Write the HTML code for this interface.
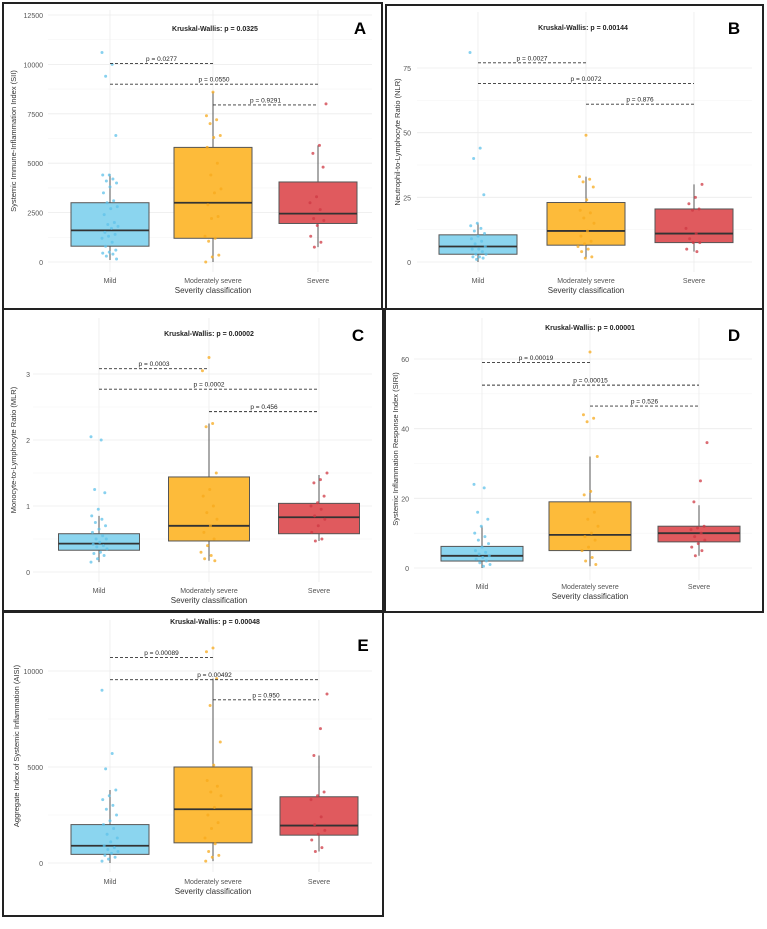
<!DOCTYPE html>
<html><head><meta charset="utf-8"><style>
body{margin:0;background:#fff;font-family:"Liberation Sans",sans-serif}
svg text{font-family:"Liberation Sans",sans-serif}
</style></head><body>
<svg id="fig" width="767" height="924" xmlns="http://www.w3.org/2000/svg"></svg>
<script>
const groups=["Mild","Moderately severe","Severe"];
// Panel A (SII)
const aTicks=[0,2500,5000,7500,10000,12500];
const aBoxes=[[100,800,1600,3000,4450],[0,1200,3000,5800,8600],[750,1950,2450,4050,5900]];
const aPts=[[10600,10000,9400,6400,4400,4400,4200,4100,4000,3800,3500,3100,3000,2800,2700,2400,2000,1900,1800,1700,1500,1400,1300,1200,1000,800,600,500,450,400,300,150],
[8600,7400,7200,7000,6400,6300,5800,5000,4400,3700,3500,2900,2300,2200,1300,1200,1050,350,250,0],
[8000,5900,5500,4800,3300,3000,2650,2200,2100,1850,1300,1000,750]];
const aBr=[[0,1,10050,"p = 0.0277"],[0,2,9000,"p = 0.0550"],[1,2,7950,"p = 0.9291"]];
// Panel B (NLR)
const bTicks=[0,25,50,75];
const bBoxes=[[0,3,6,10.5,15],[1.5,6.5,12,23,33],[4,7.5,11,20.5,30]];
const bPts=[[81,44,40,26,15,14,13,12,11,10,9,8,7,6,5,5,4,3,3,2,2,1.5,1],
[49,33,32,31,29,24,20,19,17,15,12,10,8,7,6,5,4,2,1.5],
[30,25,22.5,20.5,20,13,11,9,7.5,7.5,5,4]];
const bBr=[[0,1,77,"p = 0.0027"],[0,2,69,"p = 0.0072"],[1,2,61,"p = 0.876"]];
// Panel C (MLR)
const cTicks=[0,1,2,3];
const cBoxes=[[0.15,0.33,0.43,0.58,0.85],[0.17,0.47,0.7,1.44,2.25],[0.47,0.58,0.83,1.04,1.47]];
const cPts=[[2.05,2.0,1.25,1.2,0.95,0.85,0.8,0.75,0.7,0.65,0.6,0.55,0.5,0.5,0.45,0.42,0.4,0.38,0.35,0.3,0.28,0.25,0.2,0.15],
[3.25,3.05,2.25,2.2,1.5,1.25,1.15,1.0,0.9,0.8,0.7,0.6,0.5,0.4,0.3,0.25,0.2,0.17],
[1.5,1.4,1.35,1.15,1.05,1.0,0.95,0.85,0.8,0.7,0.6,0.5,0.47]];
const cBr=[[0,1,3.08,"p = 0.0003"],[0,2,2.77,"p = 0.0002"],[1,2,2.43,"p = 0.456"]];
// Panel D (SIRI)
const dTicks=[0,20,40,60];
const dBoxes=[[0,2,3.5,6.2,12],[0.5,5,9.5,19,32],[3.5,7.5,10,12,18]];
const dPts=[[24,23,16,14,12,10,9,8,7,6,5,4.5,4,3.5,3,2.5,2,1.5,1,0.5],
[62,44,43,42,32,22,21,16,14,12,10,9,8,6,5,3,2,1],
[36,25,19,12,11.5,11,10,9,8,7,6,5,3.5]];
const dBr=[[0,1,59,"p = 0.00019"],[0,2,52.5,"p = 0.00015"],[1,2,46.5,"p = 0.526"]];
// Panel E (AISI)
const eTicks=[0,5000,10000];
const eBoxes=[[0,450,900,2000,3800],[100,1050,2800,5000,9600],[600,1450,1950,3450,5600]];
const ePts=[[9000,5700,4900,3800,3500,3300,3000,2800,2500,2200,2000,1800,1500,1300,1100,900,800,700,600,500,400,300,200,100],
[11200,11000,9600,8200,6300,5100,4300,4000,3700,3500,2900,2500,2100,1800,1300,1000,600,400,300,100],
[8800,7000,5600,3700,3500,3300,2400,2000,1700,1500,1200,800,600]];
const eBr=[[0,1,10700,"p = 0.00089"],[0,2,9550,"p = 0.00492"],[1,2,8500,"p = 0.950"]];

const NS="http://www.w3.org/2000/svg";
const svg=document.getElementById('fig');
function el(t,a,p){const e=document.createElementNS(NS,t);for(const k in a)e.setAttribute(k,a[k]);(p||svg).appendChild(e);return e;}
const fills=["#8bd5ef","#fdbb3a","#e05a5e"],ptc=["#5fc2ea","#f7aa1c","#cf3a44"];

function panel(cfg){
  const g=el('g',{});
  
  
  const fr=el('rect',{x:cfg.fx,y:cfg.fy,width:cfg.fw,height:cfg.fh,fill:'#fff',stroke:'#222','stroke-width':2},g);
  
  
  const y=v=>cfg.y0+(cfg.y1-cfg.y0)*(v-cfg.t0)/(cfg.t1-cfg.t0);
  const x=i=>cfg.xs[i];
  const ticks=cfg.ticks;
  for(let i=0;i<ticks.length;i++){
    el('line',{x1:cfg.pl,x2:cfg.pr,y1:y(ticks[i]),y2:y(ticks[i]),stroke:'#ececec','stroke-width':0.8},g);
    if(i<ticks.length-1){const m=(ticks[i]+ticks[i+1])/2;el('line',{x1:cfg.pl,x2:cfg.pr,y1:y(m),y2:y(m),stroke:'#f5f5f5','stroke-width':0.6},g);}
    const t=el('text',{x:cfg.tx,y:y(ticks[i])+3,'text-anchor':'end','font-size':7,fill:'#555'},g);
    t.textContent=ticks[i];
    
    
  }
  for(let i=0;i<3;i++)el('line',{x1:x(i),x2:x(i),y1:cfg.pt,y2:cfg.pb,stroke:'#ececec','stroke-width':0.8},g);
  for(let i=0;i<3;i++){
    const b=cfg.boxes[i],w=cfg.bw;
    const bg=el('g',{},g);
    
    
    el('line',{x1:x(i),x2:x(i),y1:y(b[0]),y2:y(b[4]),stroke:'#555','stroke-width':1},bg);
    el('rect',{x:x(i)-w/2,y:y(b[3]),width:w,height:y(b[1])-y(b[3]),fill:fills[i],stroke:'#555','stroke-width':1},bg);
    el('line',{x1:x(i)-w/2,x2:x(i)+w/2,y1:y(b[2]),y2:y(b[2]),stroke:'#333','stroke-width':1.8},bg);
    cfg.pts[i].forEach((v,k)=>{
      const off=(((k*37+i*11)%23)-11)/11*cfg.jit;
      const c=el('circle',{cx:x(i)+off,cy:y(v),r:1.5,fill:ptc[i],opacity:0.75},bg);
      
      
    });
    const xl=el('text',{x:x(i),y:cfg.xly,'text-anchor':'middle','font-size':7,fill:'#555'},g);
    xl.textContent=groups[i];
    
    
  }
  cfg.br.forEach(br=>{
    const bl=el('line',{x1:x(br[0]),x2:x(br[1]),y1:y(br[2]),y2:y(br[2]),stroke:'#333','stroke-width':0.9,'stroke-dasharray':'3,2'},g);
    
    
    const t=el('text',{x:(x(br[0])+x(br[1]))/2,y:y(br[2])-2.5,'text-anchor':'middle','font-size':6.5,fill:'#222'},g);
    t.textContent=br[3];
    
    
  });
  const kw=el('text',{x:cfg.kwx,y:cfg.kwy,'text-anchor':'middle','font-size':7,'font-weight':'bold',fill:'#222'},g);
  kw.textContent='Kruskal-Wallis: p = '+cfg.kw;
  
  
  const lt=el('text',{x:cfg.lx,y:cfg.ly,'text-anchor':'middle','font-size':17,'font-weight':'bold',fill:'#000'},g);
  lt.textContent=cfg.letter;
  
  
  const xt=el('text',{x:x(1),y:cfg.xly+10,'text-anchor':'middle','font-size':8,fill:'#333'},g);
  xt.textContent='Severity classification';
  
  
  const ym=(cfg.pt+cfg.pb)/2;
  const yt=el('text',{x:cfg.ytx,y:ym,'text-anchor':'middle','font-size':7.5,fill:'#333',transform:`rotate(-90 ${cfg.ytx} ${ym})`},g);
  yt.textContent=cfg.ytitle;
  
  
}

panel({letter:'A',fx:3,fy:3,fw:379,fh:306,ticks:aTicks,t0:0,t1:12500,y0:262,y1:15,xs:[110,213,318],bw:78,jit:8,
  pl:48,pr:372,pt:10,pb:272,tx:43,xly:283,boxes:aBoxes,pts:aPts,br:aBr,kw:'0.0325',kwx:215,kwy:31,lx:360,ly:34,ytx:16,
  ytitle:'Systemic Immune-Inflammation Index (SII)'});
panel({letter:'B',fx:386,fy:5,fw:377,fh:304,ticks:bTicks,t0:0,t1:75,y0:262,y1:68,xs:[478,586,694],bw:78,jit:8,
  pl:417,pr:752,pt:12,pb:272,tx:411,xly:283,boxes:bBoxes,pts:bPts,br:bBr,kw:'0.00144',kwx:583,kwy:30,lx:734,ly:34,ytx:400,
  ytitle:'Neutrophil-to-Lymphocyte Ratio (NLR)'});
panel({letter:'C',fx:3,fy:309,fw:380,fh:302,ticks:cTicks,t0:0,t1:3,y0:572,y1:374,xs:[99,209,319],bw:81,jit:8,
  pl:33,pr:372,pt:318,pb:582,tx:30,xly:593,boxes:cBoxes,pts:cPts,br:cBr,kw:'0.00002',kwx:209,kwy:336,lx:358,ly:341,ytx:16,
  ytitle:'Monocyte-to-Lymphocyte Ratio (MLR)'});
panel({letter:'D',fx:385,fy:309,fw:378,fh:303,ticks:dTicks,t0:0,t1:60,y0:568,y1:359,xs:[482,590,699],bw:82,jit:8,
  pl:414,pr:752,pt:318,pb:580,tx:409,xly:589,boxes:dBoxes,pts:dPts,br:dBr,kw:'0.00001',kwx:590,kwy:330,lx:734,ly:341,ytx:398,
  ytitle:'Systemic Inflammation Response Index (SIRI)'});
panel({letter:'E',fx:3,fy:612,fw:380,fh:304,ticks:eTicks,t0:0,t1:10000,y0:863,y1:671,xs:[110,213,319],bw:78,jit:8,
  pl:48,pr:372,pt:620,pb:872,tx:43,xly:884,boxes:eBoxes,pts:ePts,br:eBr,kw:'0.00048',kwx:215,kwy:624,lx:363,ly:651,ytx:19,
  ytitle:'Aggregate Index of Systemic Inflammation (AISI)'});
</script>
</body></html>
